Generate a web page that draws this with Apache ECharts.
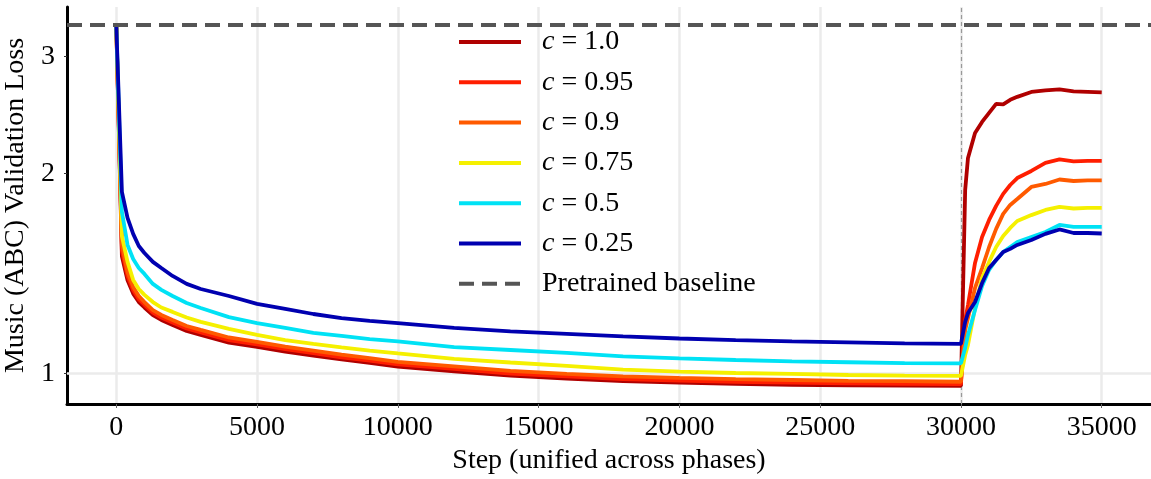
<!DOCTYPE html>
<html><head><meta charset="utf-8">
<script src="https://cdn.jsdelivr.net/npm/echarts@6/dist/echarts.min.js"></script>
<style>html,body{margin:0;padding:0;background:#fff}#c{width:1151px;height:479px}</style>
</head><body><div id="c"></div>
<script>
// x positions (training steps)
const steps = [0,200,400,600,800,1000,1300,1600,2000,2500,3000,4000,5000,6000,7000,8000,9000,10000,12000,14000,16000,18000,20000,22000,24000,26000,28000,30000,
  30150,30250,30500,30750,31000,31250,31500,31750,32000,32500,33000,33500,34000,34500,35000];

const c100 = [3.347,1.500,1.380,1.318,1.280,1.256,1.223,1.203,1.182,1.158,1.142,1.112,1.096,1.078,1.063,1.049,1.037,1.023,1.007,0.992,0.982,0.973,0.968,0.964,0.961,0.959,0.958,0.957,
  1.887,2.109,2.300,2.389,2.465,2.543,2.539,2.579,2.606,2.651,2.665,2.674,2.656,2.651,2.646];
const c095 = [3.347,1.530,1.400,1.333,1.293,1.268,1.234,1.213,1.192,1.168,1.152,1.122,1.105,1.087,1.072,1.057,1.045,1.031,1.015,0.999,0.989,0.980,0.975,0.971,0.968,0.966,0.964,0.963,
  1.203,1.267,1.466,1.604,1.701,1.786,1.862,1.920,1.967,2.016,2.073,2.098,2.084,2.087,2.087];
const c090 = [3.347,1.560,1.420,1.349,1.307,1.280,1.245,1.224,1.203,1.178,1.162,1.132,1.115,1.097,1.082,1.067,1.054,1.040,1.024,1.008,0.998,0.989,0.984,0.980,0.977,0.974,0.973,0.971,
  1.162,1.211,1.344,1.440,1.549,1.649,1.737,1.792,1.829,1.907,1.927,1.957,1.947,1.951,1.951];
const c075 = [3.347,1.609,1.471,1.382,1.339,1.312,1.280,1.256,1.237,1.213,1.195,1.166,1.142,1.122,1.107,1.094,1.082,1.071,1.051,1.038,1.026,1.013,1.006,1.001,0.998,0.994,0.992,0.991,
  1.065,1.103,1.254,1.391,1.471,1.549,1.609,1.655,1.695,1.730,1.761,1.780,1.770,1.774,1.774];
const c050 = [3.347,1.749,1.560,1.486,1.440,1.411,1.363,1.335,1.307,1.276,1.254,1.215,1.190,1.170,1.150,1.138,1.126,1.117,1.095,1.084,1.073,1.060,1.053,1.047,1.042,1.039,1.036,1.035,
  1.092,1.142,1.245,1.353,1.431,1.481,1.522,1.549,1.576,1.604,1.632,1.672,1.661,1.661,1.661];
const c025 = [3.347,1.875,1.713,1.621,1.554,1.517,1.471,1.440,1.401,1.363,1.339,1.307,1.272,1.250,1.228,1.211,1.199,1.190,1.170,1.156,1.146,1.136,1.128,1.122,1.117,1.113,1.109,1.107,
  1.195,1.232,1.280,1.367,1.440,1.481,1.522,1.539,1.560,1.587,1.621,1.646,1.626,1.626,1.623];

const baseline = 3.347;
const phaseSwitch = 30000;
const xTicks = [0,5000,10000,15000,20000,25000,30000,35000];
const yTicks = [1,2,3];

const seriesNames = ['c = 1.0','c = 0.95','c = 0.9','c = 0.75','c = 0.5','c = 0.25'];
const seriesVals = [c100,c095,c090,c075,c050,c025];
const colors = ['#b00000','#ff1e00','#ff5a00','#f5f000','#00e2f5','#0000b0'];

const FONT = 'Liberation Serif';

const lineSeries = seriesNames.map((n,k)=>({
  name:n, type:'line', showSymbol:false, symbol:'none', z:3,
  data: steps.map((s,i)=>[s, seriesVals[k][i]]),
  lineStyle:{color:colors[k], width:3.8},
  itemStyle:{color:colors[k]},
  animation:false
}));

const option = {
  animation:false,
  backgroundColor:'#fff',
  grid:{left:67, right:0, top:7, bottom:75, containLabel:false, outerBoundsMode:'none'},
  legend:{
    data:[...seriesNames,'Pretrained baseline'],
    orient:'vertical', left:457, top:28, padding:0,
    itemWidth:62, itemHeight:14, itemGap:12.3,
    itemStyle:{color:'rgba(0,0,0,0)', borderWidth:0, opacity:0},
    lineStyle:{width:4},
    textStyle:{fontFamily:FONT, fontSize:28, color:'#000', lineHeight:28, padding:[0,0,0,16],
      rich:{i:{fontFamily:FONT, fontSize:28, fontStyle:'italic', color:'#000'}, n:{fontFamily:FONT, fontSize:28, color:'#000'}}},
    formatter:function(name){
      if(name.charAt(0)==='c') return '{i|c}{n|' + name.slice(1) + '}';
      return '{n|' + name + '}';
    }
  },
  xAxis:{
    type:'value', min:-1750, max:36750,
    name:'Step (unified across phases)', nameLocation:'middle', nameGap:42,
    nameTextStyle:{fontFamily:FONT, fontSize:28, color:'#000'},
    axisLine:{onZero:false, lineStyle:{color:'#000', width:3}},
    axisTick:{customValues:xTicks, length:4, lineStyle:{color:'#666', width:1}},
    axisLabel:{customValues:xTicks, fontFamily:FONT, fontSize:28, color:'#000', margin:10,
      formatter:function(v){return String(Math.round(v));}},
    splitLine:{show:true, lineStyle:{color:'#ebebeb', width:2.5}}
  },
  yAxis:{
    type:'log', logBase:10, min:0.899, max:3.558,
    name:'Music (ABC) Validation Loss', nameLocation:'middle', nameGap:33, nameRotate:90,
    nameTextStyle:{fontFamily:FONT, fontSize:28, color:'#000'},
    axisLine:{show:true, onZero:false, lineStyle:{color:'#000', width:3}},
    axisTick:{show:true, customValues:yTicks, length:3, lineStyle:{color:'#333', width:1}},
    axisLabel:{customValues:yTicks, fontFamily:FONT, fontSize:28, color:'#000', margin:12, formatter:function(v){return String(Math.round(v));}},
    splitLine:{show:false}
  },
  series:[
    {name:'_grid', type:'line', data:[], silent:true,
     markLine:{silent:true, symbol:'none', z:1, label:{show:false},
       data:[
         {yAxis:1, lineStyle:{color:'#ebebeb', width:2.5, type:'solid'}},
         {xAxis:phaseSwitch, lineStyle:{color:'#999', width:1.2, type:[4,3]}}
       ]}},
    ...lineSeries,
    {name:'Pretrained baseline', type:'line', data:[], symbol:'none', showSymbol:false,
     lineStyle:{color:'#555', width:4, type:[15,8]}, itemStyle:{color:'#555'},
     markLine:{silent:true, symbol:'none', z:4, label:{show:false},
       data:[{yAxis:baseline}],
       lineStyle:{color:'#555', width:4, type:[15,8]}}}
  ]
};
const chart = echarts.init(document.getElementById('c'));
chart.setOption(option);
</script></body></html>
